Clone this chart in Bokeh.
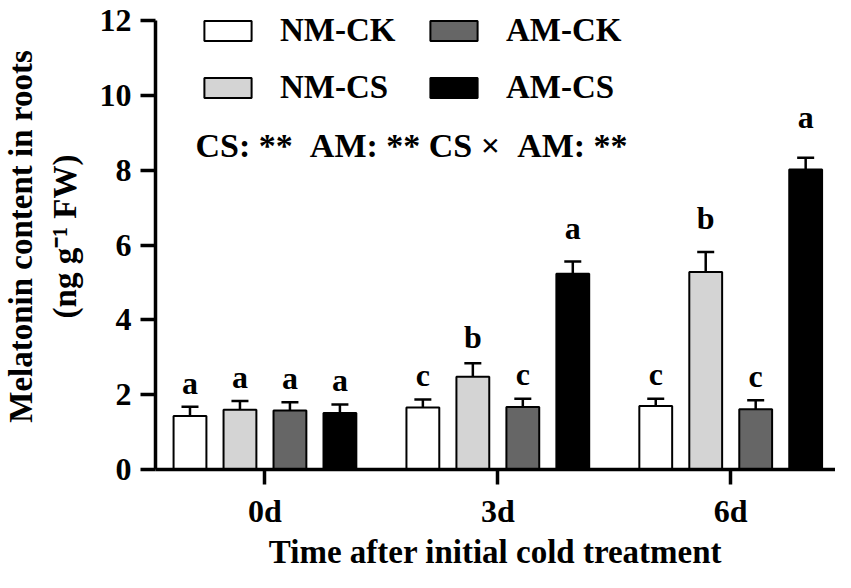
import numpy as np
from bokeh.plotting import figure
from bokeh.models import (Range1d, Whisker, ColumnDataSource, Legend, LegendItem,
                          Label, FixedTicker, TeeHead)
from bokeh.core.properties import value
from bokeh.embed import file_html
from bokeh.resources import INLINE

days = ["0d", "3d", "6d"]
groups = ["NM-CK", "NM-CS", "AM-CK", "AM-CS"]
nm_ck = [1.43, 1.66, 1.70]
nm_cs = [1.60, 2.48, 5.28]
am_ck = [1.58, 1.67, 1.61]
am_cs = [1.51, 5.23, 8.02]
nm_ck_err = [0.25, 0.21, 0.19]
nm_cs_err = [0.23, 0.36, 0.53]
am_ck_err = [0.22, 0.22, 0.24]
am_cs_err = [0.23, 0.33, 0.31]
nm_ck_let = ["a", "c", "c"]
nm_cs_let = ["a", "b", "b"]
am_ck_let = ["a", "c", "c"]
am_cs_let = ["a", "a", "a"]
y_ticks = [0, 2, 4, 6, 8, 10, 12]
stats_text = "CS: ** \u00a0AM: ** CS \u00d7 \u00a0AM: **"

series = [
    ("NM-CK", nm_ck, nm_ck_err, nm_ck_let, "#ffffff"),
    ("NM-CS", nm_cs, nm_cs_err, nm_cs_let, "#d4d4d4"),
    ("AM-CK", am_ck, am_ck_err, am_ck_let, "#666666"),
    ("AM-CS", am_cs, am_cs_err, am_cs_let, "#000000"),
]

FONT = "Liberation Serif"
pitch = 0.2146
bar_w = 0.141

p = figure(width=835, height=572, output_backend="svg", toolbar_location=None,
           x_range=Range1d(-0.47, 2.45), y_range=Range1d(0, 12.455),
           min_border_left=154, min_border_top=3, min_border_right=0, min_border_bottom=10)
p.outline_line_color = None
p.xgrid.visible = False
p.ygrid.visible = False
p.background_fill_color = "white"

renderers = []
for i, (name, vals, errs, lets, color) in enumerate(series):
    xs = np.arange(len(days)) + (i - 1.5) * pitch
    vals = np.array(vals)
    errs = np.array(errs)
    upper = vals + errs
    src = ColumnDataSource(dict(x=xs, top=vals, upper=upper, lower=vals - errs,
                                let_y=upper + 0.07 * vals, let=lets))
    r = p.vbar(x="x", top="top", bottom=0, width=bar_w, source=src,
               fill_color=color, line_color="black", line_width=2)
    renderers.append(r)
    w = Whisker(base="x", upper="upper", lower="lower", source=src,
                line_color="black", line_width=2.5,
                upper_head=TeeHead(size=17, line_width=2.5, line_color="black"),
                lower_head=TeeHead(size=17, line_width=2.5, line_color="black"))
    p.add_layout(w)
    p.text(x="x", y="let_y", text="let", source=src, y_offset=-20,
           text_align="center", text_baseline="alphabetic",
           text_font=value(FONT), text_font_style="bold", text_font_size="32px",
           text_color="black")

# axes
p.xaxis.ticker = FixedTicker(ticks=[0, 1, 2])
p.xaxis.major_label_overrides = {0: days[0], 1: days[1], 2: days[2]}
p.yaxis.ticker = FixedTicker(ticks=y_ticks)
p.yaxis.bounds = (0, 12)
for ax in (p.xaxis[0], p.yaxis[0]):
    ax.axis_line_width = 3.5
    ax.major_tick_line_width = 3.5
    ax.major_tick_out = 15
    ax.major_tick_in = 0
    ax.minor_tick_line_color = None
    ax.major_label_text_font = FONT
    ax.major_label_text_font_style = "bold"
    ax.major_label_text_font_size = "32px"
    ax.major_label_text_color = "black"
    ax.axis_label_text_font = FONT
    ax.axis_label_text_font_style = "bold"
    ax.axis_label_text_color = "black"
    ax.axis_line_color = "black"
    ax.major_tick_line_color = "black"

p.xaxis.major_label_standoff = 8
p.xaxis.axis_label = "Time after initial cold treatment"
p.xaxis.axis_label_text_font_size = "33px"
p.xaxis.axis_label_standoff = 2
p.yaxis.major_label_standoff = 9
p.yaxis.axis_label = "Melatonin content in roots\n(ng g\u207b\u00b9 FW)"
p.yaxis.axis_label_text_font_size = "33px"
p.yaxis.axis_label_standoff = 14

# legends
leg1 = Legend(items=[LegendItem(label=groups[0], renderers=[renderers[0]]),
                     LegendItem(label=groups[1], renderers=[renderers[1]])],
              location=(43, 363))
leg2 = Legend(items=[LegendItem(label=groups[2], renderers=[renderers[2]]),
                     LegendItem(label=groups[3], renderers=[renderers[3]])],
              location=(269, 363))
for lg in (leg1, leg2):
    lg.glyph_width = 59
    lg.glyph_height = 25
    lg.label_standoff = 23
    lg.label_text_font = FONT
    lg.label_text_font_style = "bold"
    lg.label_text_font_size = "33px"
    lg.label_text_color = "black"
    lg.spacing = 20
    lg.padding = 0
    lg.margin = 0
    lg.border_line_color = None
    lg.background_fill_alpha = 0
    p.add_layout(lg)

lab = Label(x=-0.298, y=8.65, text=stats_text, text_baseline="middle",
            text_font=FONT, text_font_style="bold", text_font_size="34px",
            text_color="black")
p.add_layout(lab)

open("out.html", "w").write(file_html(p, INLINE))
